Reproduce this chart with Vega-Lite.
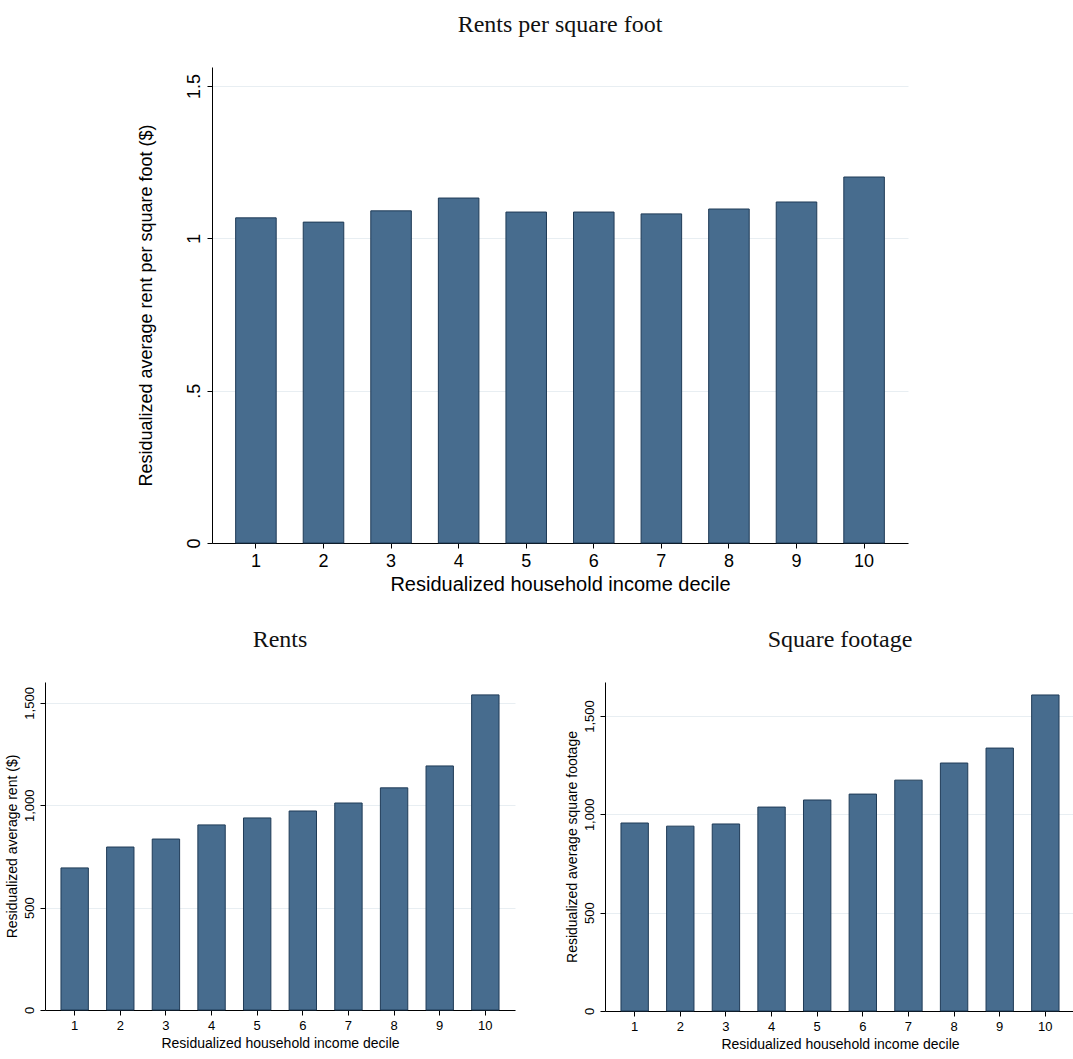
{
  "$schema": "https://vega.github.io/schema/vega-lite/v6.json",
  "background": "white",
  "padding": {"left": 5, "top": 13, "right": 3, "bottom": 0},
  "datasets": {
    "deciles": [
      {"decile": 1, "psf": 1.067, "rent": 694, "sqft": 956},
      {"decile": 2, "psf": 1.053, "rent": 796, "sqft": 940},
      {"decile": 3, "psf": 1.09, "rent": 835, "sqft": 951},
      {"decile": 4, "psf": 1.132, "rent": 904, "sqft": 1037},
      {"decile": 5, "psf": 1.086, "rent": 938, "sqft": 1073},
      {"decile": 6, "psf": 1.086, "rent": 972, "sqft": 1103},
      {"decile": 7, "psf": 1.08, "rent": 1011, "sqft": 1174},
      {"decile": 8, "psf": 1.096, "rent": 1085, "sqft": 1261},
      {"decile": 9, "psf": 1.119, "rent": 1192, "sqft": 1337},
      {"decile": 10, "psf": 1.201, "rent": 1539, "sqft": 1607}
    ]
  },
  "center": true,
  "spacing": 34,
  "vconcat": [
    {
      "title": {"text": "Rents per square foot", "offset": 30},
      "width": 696,
      "height": 476,
      "data": {"name": "deciles"},
      "mark": {"type": "bar", "color": "#476c8e", "stroke": "#1f3b57", "strokeWidth": 1},
      "encoding": {
        "x": {"field": "decile", "type": "ordinal", "title": "Residualized household income decile",
              "scale": {"paddingInner": 0.4, "paddingOuter": 0.35},
              "axis": {"labelFontSize": 18, "titleFontSize": 20, "labelAngle": 0}},
        "y": {"field": "psf", "type": "quantitative", "title": "Residualized average rent per square foot ($)",
              "scale": {"domain": [0, 1.562], "nice": false},
              "axis": {"values": [0, 0.5, 1, 1.5], "labelExpr": "datum.value == 0 ? '0' : datum.value == 0.5 ? '.5' : datum.value == 1 ? '1' : '1.5'",
                       "labelFontSize": 18, "titleFontSize": 18, "titlePadding": 30, "labelAngle": -90, "labelAlign": "center", "labelBaseline": "bottom"}}
      }
    },
    {
      "spacing": 50,
      "hconcat": [
        {
          "title": {"text": "Rents", "offset": 30},
          "width": 470,
          "height": 328,
          "data": {"name": "deciles"},
          "mark": {"type": "bar", "color": "#476c8e", "stroke": "#1f3b57", "strokeWidth": 1},
          "encoding": {
            "x": {"field": "decile", "type": "ordinal", "title": "Residualized household income decile",
                  "scale": {"paddingInner": 0.4, "paddingOuter": 0.35},
                  "axis": {"labelAngle": 0}},
            "y": {"field": "rent", "type": "quantitative", "title": "Residualized average rent ($)",
                  "scale": {"domain": [0, 1602], "nice": false},
                  "axis": {"values": [0, 500, 1000, 1500], "format": ",.0f", "labelAngle": -90, "labelAlign": "center", "labelBaseline": "bottom"}}
          }
        },
        {
          "title": {"text": "Square footage", "offset": 30},
          "width": 470,
          "height": 329,
          "data": {"name": "deciles"},
          "mark": {"type": "bar", "color": "#476c8e", "stroke": "#1f3b57", "strokeWidth": 1},
          "encoding": {
            "x": {"field": "decile", "type": "ordinal", "title": "Residualized household income decile",
                  "scale": {"paddingInner": 0.4, "paddingOuter": 0.35},
                  "axis": {"labelAngle": 0}},
            "y": {"field": "sqft", "type": "quantitative", "title": "Residualized average square footage",
                  "scale": {"domain": [0, 1673], "nice": false},
                  "axis": {"values": [0, 500, 1000, 1500], "format": ",.0f", "labelAngle": -90, "labelAlign": "center", "labelBaseline": "bottom"}}
          }
        }
      ]
    }
  ],
  "config": {
    "view": {"stroke": null},
    "font": "Liberation Sans",
    "title": {"font": "Liberation Serif", "fontSize": 24, "fontWeight": "normal", "color": "#111"},
    "axis": {"labelFont": "Liberation Sans", "titleFont": "Liberation Sans", "labelFontSize": 13, "titleFontSize": 14,
             "titleFontWeight": "normal", "labelColor": "#000", "titleColor": "#000", "domainColor": "#000", "tickColor": "#000", "labelPadding": 4},
    "axisX": {"grid": false},
    "axisY": {"grid": true, "gridColor": "#e8eef2"}
  }
}
